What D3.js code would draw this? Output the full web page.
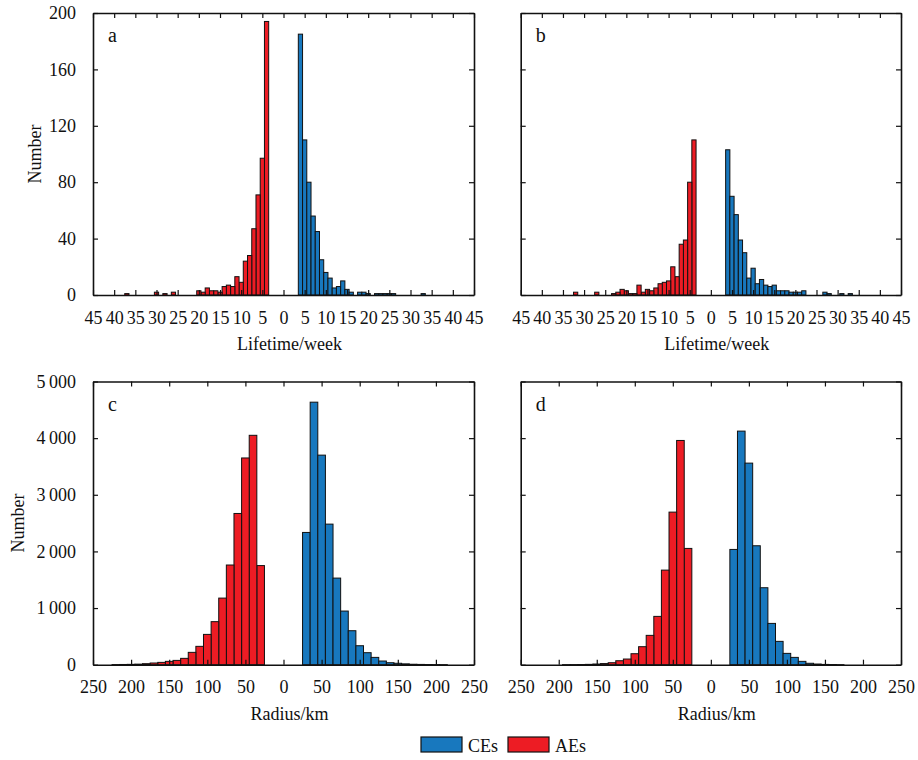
<!DOCTYPE html>
<html><head><meta charset="utf-8">
<script src="https://cdn.jsdelivr.net/npm/d3@7"></script>
<style>
html,body{margin:0;padding:0;background:#fff;}
svg text{font-family:"Liberation Serif","Times New Roman",serif;fill:#111;}
</style></head>
<body><svg id="chart" width="918" height="760"></svg>
<script>
// ---------- data ----------
const lifeWeeks = [4,5,6,7,8,9,10,11,12,13,14,15,16,17,18,19,20,21,22,23,24,25,26,27,28,29,30,31,32,33,34,35,36,37,38,39,40];
const lifeAE_a = [194,97,71,47,28,24,9,13,6,7,6,2,3,3,5,2,3,0,0,0,0,0,2,0,1,0,2,0,0,0,0,0,0,1,0,0,0];
const lifeCE_a = [185,110,80,56,45,25,16,12,5,6,10,4,2,0,2,2,1,0,1,1,1,1,1,0,0,0,0,0,0,1,0,0,0,0,0,0,0];
const lifeAE_b = [110,80,39,36,13,20,10,9,8,5,3,4,2,7,1,1,3,4,2,1,0,0,0,2,0,0,0,0,2,0,0,0,0,0,0,0,0];
const lifeCE_b = [103,70,57,39,30,12,19,8,11,7,6,7,3,3,3,2,2,2,3,0,0,0,0,2,1,0,0,1,0,1,0,0,0,0,0,0,0];

const radiusBins = [30,40,50,60,70,80,90,100,110,120,130,140,150,160,170,180,190,200,210,220];
const radAE_c = [1750,4050,3650,2670,1760,1176,760,535,324,218,112,76,59,41,30,18,10,6,4,2];
const radCE_c = [2335,4635,3700,2482,1529,947,600,335,212,129,65,35,25,15,8,5,3,2,1,0];
const radAE_d = [2053,3959,2694,1670,853,518,318,194,100,70,35,20,12,6,3,2,1,0,0,0];
const radCE_d = [2035,4124,3559,2100,1359,729,412,200,129,59,25,12,5,3,1,0,0,0,0,0];

const lifeXTicks = [-45,-40,-35,-30,-25,-20,-15,-10,-5,0,5,10,15,20,25,30,35,40,45];
const lifeYTicks = [0,40,80,120,160,200];
const radXTicks = [-250,-200,-150,-100,-50,0,50,100,150,200,250];
const radYTicks = [0,1000,2000,3000,4000,5000];

const seriesNames = ["CEs","AEs"];
const colCE = "#1878be", colAE = "#ed1c24";

// ---------- drawing ----------
const svg = d3.select("#chart");
const locale = d3.formatLocale({decimal:".", thousands:"\u2009", grouping:[3], currency:["",""]});
const fmtThousands = locale.format(",d");

function panel(opt){
  const {x0,x1,y0,y1,xDomain,yDomain,xTicks,yTicks,bins,binW,ae,ce,letter,xLabel,showY,yFmt,yLabelX} = opt;
  const g = svg.append("g");
  const x = d3.scaleLinear().domain(xDomain).range([x0,x1]);
  const y = d3.scaleLinear().domain(yDomain).range([y1,y0]);

  // bars
  const barsAE = bins.map((b,i)=>({b,v:ae[i]})).filter(d=>d.v>0);
  const barsCE = bins.map((b,i)=>({b,v:ce[i]})).filter(d=>d.v>0);
  g.selectAll("rect.ae").data(barsAE).join("rect")
    .attr("x",d=>x(-d.b-binW/2)).attr("width",d=>x(binW)-x(0))
    .attr("y",d=>y(d.v)).attr("height",d=>y(0)-y(d.v))
    .attr("fill",colAE).attr("stroke","#111").attr("stroke-width",1);
  g.selectAll("rect.ce").data(barsCE).join("rect")
    .attr("x",d=>x(d.b-binW/2)).attr("width",d=>x(binW)-x(0))
    .attr("y",d=>y(d.v)).attr("height",d=>y(0)-y(d.v))
    .attr("fill",colCE).attr("stroke","#111").attr("stroke-width",1);

  const styleAxis = sel => {
    sel.selectAll("path").attr("stroke","#111").attr("stroke-width",1.6);
    sel.selectAll("line").attr("stroke","#111").attr("stroke-width",1.2);
    sel.selectAll("text").attr("font-size",18).attr("font-family","Liberation Serif, Times New Roman, serif").attr("fill","#111");
  };
  // bottom
  g.append("g").attr("transform",`translate(0,${y1})`)
    .call(d3.axisBottom(x).tickValues(xTicks).tickSizeInner(-5).tickSizeOuter(0).tickPadding(16)
      .tickFormat(d=>Math.abs(d)))
    .call(styleAxis);
  // top
  g.append("g").attr("transform",`translate(0,${y0})`)
    .call(d3.axisTop(x).tickValues(xTicks).tickSizeInner(-5).tickSizeOuter(0).tickFormat(""))
    .call(styleAxis);
  // left
  g.append("g").attr("transform",`translate(${x0},0)`)
    .call(d3.axisLeft(y).tickValues(yTicks).tickSizeInner(-5).tickSizeOuter(0).tickPadding(17)
      .tickFormat(showY ? yFmt : ""))
    .call(styleAxis);
  // right
  g.append("g").attr("transform",`translate(${x1},0)`)
    .call(d3.axisRight(y).tickValues(yTicks).tickSizeInner(-5).tickSizeOuter(0).tickFormat(""))
    .call(styleAxis);

  g.append("text").attr("x",x0+15).attr("y",y0+29).attr("font-size",20).text(letter);
  g.append("text").attr("x",(x0+x1)/2+6).attr("y",y1+55).attr("text-anchor","middle")
    .attr("font-size",18).text(xLabel);
  if(showY){
    g.append("text").attr("transform",`translate(${yLabelX},${(y0+y1)/2}) rotate(-90)`)
      .attr("text-anchor","middle").attr("font-size",18).text("Number");
  }
}

const topY0 = 13, topY1 = 295, botY0 = 381.5, botY1 = 664.7;
const leftX0 = 93, leftX1 = 474, rightX0 = 520.7, rightX1 = 901;

panel({x0:leftX0,x1:leftX1,y0:topY0,y1:topY1,xDomain:[-45,45],yDomain:[0,200],xTicks:lifeXTicks,yTicks:lifeYTicks,
  bins:lifeWeeks,binW:1,ae:lifeAE_a,ce:lifeCE_a,letter:"a",xLabel:"Lifetime/week",showY:true,yFmt:d=>d,yLabelX:41});
panel({x0:rightX0,x1:rightX1,y0:topY0,y1:topY1,xDomain:[-45,45],yDomain:[0,200],xTicks:lifeXTicks,yTicks:lifeYTicks,
  bins:lifeWeeks,binW:1,ae:lifeAE_b,ce:lifeCE_b,letter:"b",xLabel:"Lifetime/week",showY:false});
panel({x0:leftX0,x1:leftX1,y0:botY0,y1:botY1,xDomain:[-250,250],yDomain:[0,5000],xTicks:radXTicks,yTicks:radYTicks,
  bins:radiusBins,binW:10,ae:radAE_c,ce:radCE_c,letter:"c",xLabel:"Radius/km",showY:true,yFmt:fmtThousands,yLabelX:24});
panel({x0:rightX0,x1:rightX1,y0:botY0,y1:botY1,xDomain:[-250,250],yDomain:[0,5000],xTicks:radXTicks,yTicks:radYTicks,
  bins:radiusBins,binW:10,ae:radAE_d,ce:radCE_d,letter:"d",xLabel:"Radius/km",showY:false});

// legend
const legend = svg.append("g");
const legItems = [{name:seriesNames[0],c:colCE,x:421},{name:seriesNames[1],c:colAE,x:508}];
legItems.forEach(it=>{
  legend.append("rect").attr("x",it.x).attr("y",737).attr("width",41).attr("height",15)
    .attr("fill",it.c).attr("stroke","#111").attr("stroke-width",1.2);
  legend.append("text").attr("x",it.x+47).attr("y",751.5).attr("font-size",18).text(it.name);
});
</script>
</body></html>
